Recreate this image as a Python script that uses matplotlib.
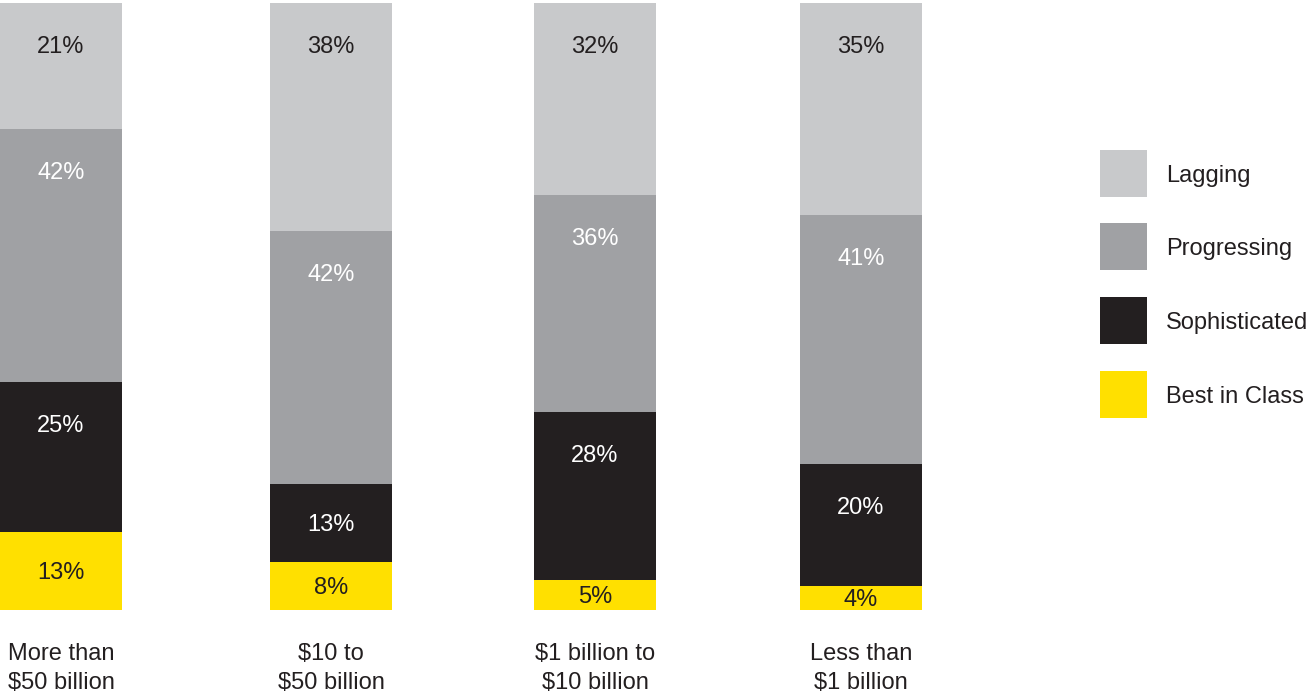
import matplotlib
matplotlib.use("Agg")
import matplotlib.pyplot as plt
from matplotlib.patches import Rectangle
import numpy as np

plt.rcParams['font.family'] = ['Liberation Sans', 'DejaVu Sans']

# Company size groups and maturity shares (%)
categories = ["More than\n$50 billion", "$10 to\n$50 billion",
              "$1 billion to\n$10 billion", "Less than\n$1 billion"]
segments = ["Best in Class", "Sophisticated", "Progressing", "Lagging"]
best_in_class = [13, 8, 5, 4]
sophisticated = [25, 13, 28, 20]
progressing = [42, 42, 36, 41]
lagging = [21, 38, 32, 35]

colors = ["#ffe000", "#231f20", "#a0a1a4", "#c8c9cb"]
text_colors = ["#231f20", "#ffffff", "#ffffff", "#231f20"]

W, H = 1307, 692
fig = plt.figure(figsize=(W / 100, H / 100), dpi=100)

# x axis in pixel units across the whole figure width
ax = fig.add_axes([0, (H - 610) / H, 1, 607 / H])
ax.set_xlim(0, W)
ax.set_ylim(0, 100)
ax.axis("off")

data = np.array([best_in_class, sophisticated, progressing, lagging], dtype=float)
totals = data.sum(axis=0)
shares = data / totals * 100
x = np.array([61, 331, 595, 861])
bar_w = 122

px = 100 / 607  # one pixel in y data units
bottom = np.zeros(len(categories))
for i, seg in enumerate(segments):
    ax.bar(x, shares[i], bar_w, bottom=bottom, color=colors[i], label=seg,
           linewidth=0)
    for j in range(len(categories)):
        top = bottom[j] + shares[i][j]
        ypos = top - min(44 * px, shares[i][j] / 2 + 2 * px)
        ax.text(x[j], ypos, f"{int(data[i][j])}%", ha="center", va="center",
                fontsize=17, color=text_colors[i])
    bottom += shares[i]

# category labels under the bars
for j, cat in enumerate(categories):
    ax.text(x[j], -33 * px, cat, ha="center", va="top", fontsize=17,
            color="#231f20", linespacing=1.4)

# legend swatches, top to bottom: Lagging .. Best in Class
legend_tops = [150, 223, 297, 371]
for k, seg_idx in enumerate([3, 2, 1, 0]):
    top = legend_tops[k]
    fig.add_artist(Rectangle((1100 / W, (H - top - 47) / H), 47 / W, 47 / H,
                             transform=fig.transFigure,
                             facecolor=colors[seg_idx], edgecolor="none"))
    fig.text(1166 / W, (H - top - 26) / H, segments[seg_idx], ha="left",
             va="center", fontsize=17, color="#231f20")

fig.savefig("out.png", dpi=100)
